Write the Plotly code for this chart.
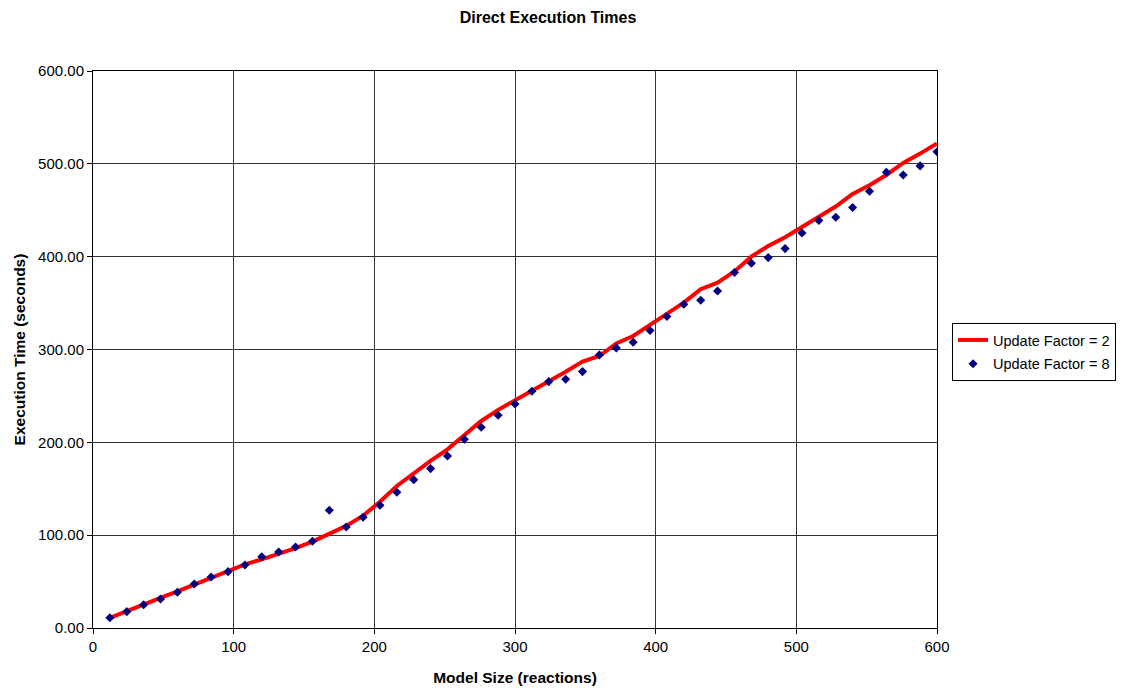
import plotly.graph_objects as go

model_size = [12, 24, 36, 48, 60, 72, 84, 96, 108, 120, 132, 144, 156, 168, 180, 192, 204, 216, 228, 240,
              252, 264, 276, 288, 300, 312, 324, 336, 348, 360, 372, 384, 396, 408, 420, 432, 444, 456, 468, 480,
              492, 504, 516, 528, 540, 552, 564, 576, 588, 600]

uf2 = [11, 18.5, 25.5, 32.5, 39.5, 47, 54.5, 61.5, 68.5, 74, 79.5, 86, 93, 101, 110, 121, 136, 153, 167, 180,
       192.5, 207.5, 223, 235, 245, 255.5, 265.5, 276, 287, 293, 306.5, 314.5, 326.5, 338, 350.5, 365, 372, 384, 400, 411.5,
       421, 432, 443, 454, 467.5, 477, 488, 501, 511, 522]

uf8 = [11.1, 17.6, 25.1, 31.2, 38.5, 47.4, 55, 60.7, 67.9, 76.8, 81.9, 87.3, 93.4, 126.8, 108.8, 119.3, 132.2, 146.2, 159.8, 171.7,
       185.3, 203.3, 216.3, 229.2, 241.4, 255, 265.4, 268, 276.2, 294.2, 301.7, 307.8, 320.4, 335.5, 348.8, 353, 363, 383, 393, 399,
       408.7, 425.6, 439, 442.5, 453, 470.5, 491, 488, 497.8, 513]

x_ticks = [0, 100, 200, 300, 400, 500, 600]
y_ticks = [0, 100, 200, 300, 400, 500, 600]

font = "Liberation Sans, Arial, sans-serif"
W, H = 1118, 683

fig = go.Figure()
fig.add_trace(go.Scatter(x=model_size, y=uf2, mode="lines", name="Update Factor = 2",
                         legendgroup="a",
                         line=dict(color="#ff0000", width=4)))
fig.add_trace(go.Scatter(x=model_size, y=uf8, mode="markers", name="Update Factor = 8",
                         legendgroup="b",
                         marker=dict(symbol="diamond", color="#000080", size=7)))

fig.update_layout(
    width=W, height=H,
    paper_bgcolor="white", plot_bgcolor="white",
    margin=dict(l=85, r=189, t=63, b=63, autoexpand=False),
    font=dict(family=font, size=15, color="black"),
    title=dict(text="<b>Direct Execution Times</b>", x=540 / W, xanchor="center",
               y=1 - 9 / H, yanchor="middle", font=dict(size=16)),
    showlegend=True,
    legend=dict(x=1.0178, xanchor="left", y=0.4955, yanchor="middle",
                bordercolor="black", borderwidth=1, bgcolor="white",
                font=dict(size=14.5), tracegroupgap=2, itemwidth=30),
    xaxis=dict(range=[0, 600], tickvals=x_ticks, ticktext=[str(v) for v in x_ticks],
               showgrid=True, gridcolor="#333333", gridwidth=1,
               showline=True, linecolor="black", linewidth=1, mirror=True,
               ticks="outside", ticklen=5, tickcolor="black", zeroline=False,
               tickfont=dict(size=15),
               title=dict(text="<b>Model Size (reactions)</b>", standoff=18, font=dict(size=15.5))),
    yaxis=dict(range=[0, 600], tickvals=y_ticks, ticktext=[f"{v:.2f}" for v in y_ticks],
               showgrid=True, gridcolor="#333333", gridwidth=1,
               showline=True, linecolor="black", linewidth=1, mirror=True,
               ticks="outside", ticklen=5, tickcolor="black", zeroline=False,
               tickfont=dict(size=15),
               title=dict(text="<b>Execution Time (seconds)</b>", standoff=8, font=dict(size=15.5))),
)

fig.write_html("out.html")
